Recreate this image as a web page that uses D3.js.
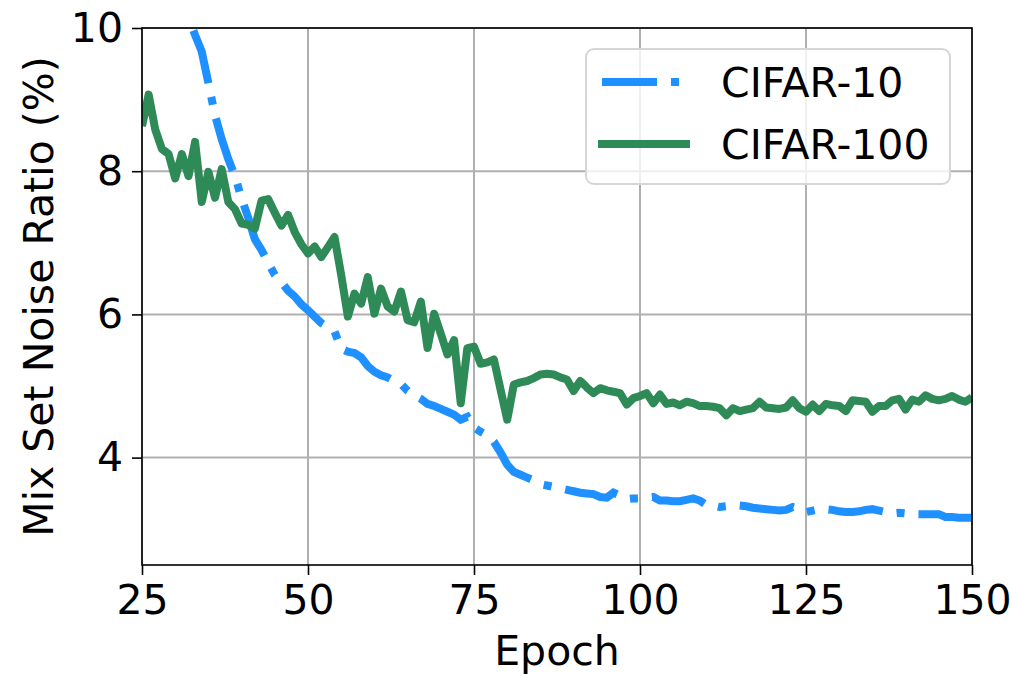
<!DOCTYPE html>
<html>
<head>
<meta charset="utf-8">
<script src="https://cdn.jsdelivr.net/npm/d3@7"></script>
<style>
  body { margin: 0; background: #fff; }
  svg text { font-family: "DejaVu Sans", sans-serif; fill: #000; }
</style>
</head>
<body>
<svg width="1012" height="676"></svg>
<script>
// mix set noise ratio per epoch, 25..150
var epochs = d3.range(25, 151);

var cifar10 = [
  12.4, 12.0, 11.6, 11.3, 11.0, 10.75, 10.5, 10.15, 9.9, 9.67,
  9.23, 8.78, 8.45, 8.17, 7.93, 7.62, 7.35, 7.05, 6.90, 6.72,
  6.55, 6.45, 6.33, 6.25, 6.14, 6.06, 5.97, 5.88, 5.82, 5.76,
  5.52, 5.48, 5.46, 5.40, 5.28, 5.20, 5.15, 5.12, 5.07, 5.03,
  4.93, 4.87, 4.82, 4.75, 4.72, 4.68, 4.64, 4.60, 4.53, 4.57,
  4.42, 4.36, 4.31, 4.22, 4.07, 3.90, 3.80, 3.76, 3.72, 3.68,
  3.63, 3.61, 3.59, 3.57, 3.55, 3.53, 3.51, 3.50, 3.49, 3.45,
  3.44, 3.51, 3.47, 3.42, 3.43, 3.43, 3.44, 3.45, 3.40, 3.40,
  3.39, 3.39, 3.41, 3.43, 3.40, 3.34, 3.33, 3.31, 3.32, 3.33,
  3.33, 3.32, 3.30, 3.29, 3.28, 3.27, 3.26, 3.27, 3.31, 3.28,
  3.24, 3.26, 3.28, 3.28, 3.27, 3.25, 3.24, 3.24, 3.25, 3.27,
  3.28, 3.26, 3.24, 3.22, 3.23, 3.22, 3.21, 3.21, 3.21, 3.21,
  3.21, 3.17, 3.17, 3.16, 3.16, 3.16
];

var cifar100 = [
  8.63, 9.07, 8.58, 8.31, 8.24, 7.90, 8.24, 7.93, 8.41, 7.57,
  7.99, 7.63, 8.03, 7.57, 7.47, 7.27, 7.25, 7.20, 7.59, 7.61,
  7.42, 7.24, 7.39, 7.15, 6.98, 6.85, 6.95, 6.80, 6.94, 7.08,
  6.55, 5.97, 6.29, 6.15, 6.52, 6.01, 6.36, 6.11, 6.04, 6.32,
  5.92, 5.89, 6.18, 5.53, 6.01, 5.73, 5.44, 5.64, 4.76, 5.53,
  5.55, 5.31, 5.33, 5.37, 4.95, 4.53, 5.02, 5.05, 5.07, 5.11,
  5.16, 5.17, 5.16, 5.12, 5.09, 4.93, 5.07, 4.98, 4.90, 4.97,
  4.94, 4.92, 4.90, 4.74, 4.83, 4.86, 4.90, 4.76, 4.88, 4.75,
  4.77, 4.73, 4.78, 4.76, 4.72, 4.72, 4.71, 4.69, 4.59, 4.69,
  4.65, 4.67, 4.69, 4.78, 4.70, 4.69, 4.68, 4.70, 4.80, 4.69,
  4.64, 4.74, 4.65, 4.75, 4.73, 4.72, 4.65, 4.80, 4.79, 4.78,
  4.64, 4.72, 4.72, 4.80, 4.82, 4.67, 4.81, 4.78, 4.87, 4.82,
  4.80, 4.82, 4.86, 4.81, 4.78, 4.84
];

var seriesNames = ["CIFAR-10", "CIFAR-100"];
var seriesColors = ["#1e90ff", "#2e8b57"];
var xTicks = [25, 50, 75, 100, 125, 150];
var yTicks = [4, 6, 8, 10];

var fontSize = 41;

var svg = d3.select("svg");
var margin = {top: 28, right: 40, bottom: 111, left: 142};
var width = 1012 - margin.left - margin.right,
    height = 676 - margin.top - margin.bottom;

var x = d3.scaleLinear().domain([25, 150]).range([0, width]);
var y = d3.scaleLinear().domain([2.5, 10]).range([height, 0]);

var g = svg.append("g").attr("transform", "translate(" + margin.left + "," + margin.top + ")");

g.append("clipPath").attr("id", "plot-clip")
  .append("rect").attr("width", width).attr("height", height);

// grid
g.append("g").selectAll("line").data(xTicks).enter().append("line")
  .attr("x1", function(d) { return x(d); }).attr("x2", function(d) { return x(d); })
  .attr("y1", 0).attr("y2", height)
  .attr("stroke", "#b0b0b0").attr("stroke-width", 2);
g.append("g").selectAll("line").data(yTicks).enter().append("line")
  .attr("y1", function(d) { return y(d); }).attr("y2", function(d) { return y(d); })
  .attr("x1", 0).attr("x2", width)
  .attr("stroke", "#b0b0b0").attr("stroke-width", 2);

// series
var line = d3.line()
  .x(function(d, i) { return x(epochs[i]); })
  .y(function(d) { return y(d); });

var lines = g.append("g").attr("clip-path", "url(#plot-clip)");
lines.append("path").datum(cifar10)
  .attr("d", line).attr("fill", "none")
  .attr("stroke", seriesColors[0]).attr("stroke-width", 8)
  .attr("stroke-dasharray", "55,14,8,14");
lines.append("path").datum(cifar100)
  .attr("d", line).attr("fill", "none")
  .attr("stroke", seriesColors[1]).attr("stroke-width", 8)
  .attr("stroke-linejoin", "round");

// axes
var xAxis = g.append("g").attr("transform", "translate(0," + height + ")")
  .call(d3.axisBottom(x).tickValues(xTicks).tickSizeInner(10).tickSizeOuter(0).tickPadding(10));
var yAxis = g.append("g")
  .call(d3.axisLeft(y).tickValues(yTicks).tickSizeInner(10).tickSizeOuter(0).tickPadding(9));
[xAxis, yAxis].forEach(function(a) {
  a.select(".domain").remove();
  a.selectAll("line").attr("stroke", "#000").attr("stroke-width", 1.6);
  a.selectAll("text").attr("font-size", fontSize).attr("font-family", "DejaVu Sans");
});

// frame
g.append("rect").attr("width", width).attr("height", height)
  .attr("fill", "none").attr("stroke", "#000").attr("stroke-width", 1.6);

// axis labels
svg.append("text")
  .attr("x", margin.left + width / 2).attr("y", 665)
  .attr("text-anchor", "middle").attr("font-size", fontSize)
  .text("Epoch");
svg.append("text")
  .attr("transform", "translate(53," + (margin.top + height / 2) + ") rotate(-90)")
  .attr("text-anchor", "middle").attr("font-size", fontSize)
  .text("Mix Set Noise Ratio (%)");

// legend
var legend = svg.append("g").attr("transform", "translate(586,49)");
legend.append("rect").attr("width", 364).attr("height", 135)
  .attr("rx", 8).attr("ry", 8)
  .attr("fill", "#fff").attr("fill-opacity", 0.8)
  .attr("stroke", "#d6d6d6").attr("stroke-width", 2);
var items = legend.selectAll("g.item").data(seriesNames).enter().append("g")
  .attr("class", "item")
  .attr("transform", function(d, i) { return "translate(0," + (33 + i * 62) + ")"; });
items.append("line")
  .attr("x1", 12).attr("x2", 104).attr("y1", 0).attr("y2", 0)
  .attr("stroke", function(d, i) { return seriesColors[i]; })
  .attr("stroke-width", 8)
  .attr("stroke-dasharray", function(d, i) { return i === 0 ? "55,14,8,14" : null; })
  .attr("stroke-dashoffset", -4);
items.append("text")
  .attr("x", 135).attr("y", 15)
  .attr("font-size", fontSize)
  .text(function(d) { return d; });
</script>
</body>
</html>
